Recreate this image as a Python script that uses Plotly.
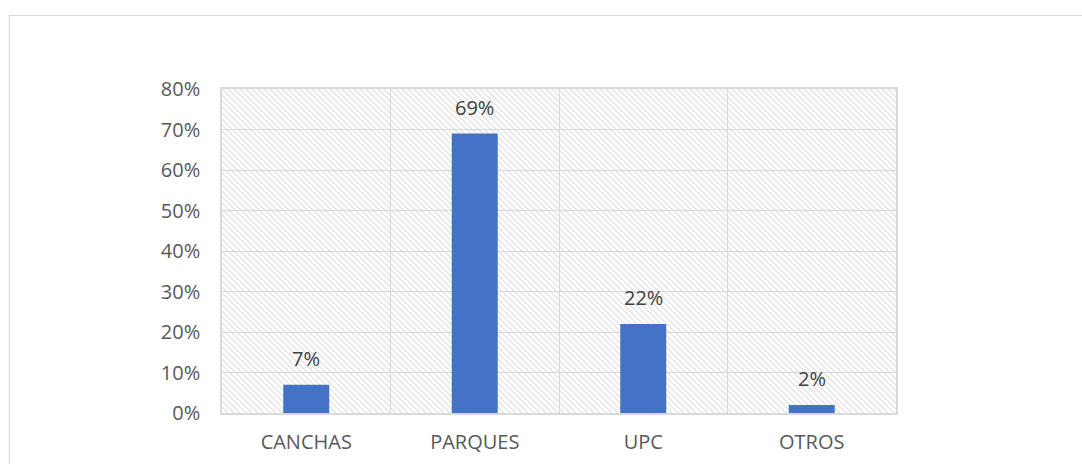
import base64
import plotly.graph_objects as go

# Survey results: share of answers per category
categories = ["CANCHAS", "PARQUES", "UPC", "OTROS"]
shares = [0.07, 0.69, 0.22, 0.02]
y_ticks = [0.0, 0.1, 0.2, 0.3, 0.4, 0.5, 0.6, 0.7, 0.8]
y_tick_labels = ["0%", "10%", "20%", "30%", "40%", "50%", "60%", "70%", "80%"]

FIG_W, FIG_H = 1082, 464
M_L, M_R, M_T, M_B = 222, 186, 89, 51
PLOT_W = FIG_W - M_L - M_R
PLOT_H = FIG_H - M_T - M_B

GRID = "#d9d9d9"
BAR = "#4472C4"
FONT = "Open Sans, Liberation Sans, sans-serif"
FS = 20

# Diagonal hatch pattern for the plotting area background
hatch_svg = f"""<svg xmlns='http://www.w3.org/2000/svg' width='{PLOT_W}' height='{PLOT_H}'>
<defs><pattern id='h' patternUnits='userSpaceOnUse' width='6' height='6'>
<path d='M-1,-1 L7,7 M-1,5 L1,7 M5,-1 L7,1' stroke='#dedede' stroke-width='1.2'/>
</pattern></defs>
<rect width='100%' height='100%' fill='white'/>
<rect width='100%' height='100%' fill='url(#h)'/>
</svg>"""
hatch_uri = "data:image/svg+xml;base64," + base64.b64encode(hatch_svg.encode()).decode()

fig = go.Figure(
    go.Bar(
        x=categories,
        y=shares,
        width=0.273,
        marker=dict(color=BAR, line=dict(width=0)),
        cliponaxis=False,
    )
)

# value labels above the bars
annotations = [
    dict(
        x=c, y=v, xref="x", yref="y",
        text=f"{round(v * 100)}%",
        showarrow=False, yanchor="bottom", yshift=11,
        font=dict(family=FONT, size=FS, color="#404040"),
    )
    for c, v in zip(categories, shares)
]

fig.update_layout(
    width=FIG_W,
    height=FIG_H,
    margin=dict(l=M_L, r=M_R, t=M_T, b=M_B, pad=0),
    paper_bgcolor="white",
    plot_bgcolor="rgba(0,0,0,0)",
    showlegend=False,
    font=dict(family=FONT, size=FS, color="#595959"),
    annotations=annotations,
    images=[
        dict(
            source=hatch_uri,
            xref="paper", yref="paper",
            x=0, y=1, sizex=1, sizey=1,
            xanchor="left", yanchor="top",
            sizing="stretch", layer="below",
        )
    ],
    shapes=[
        # outer chart frame
        dict(
            type="rect", xref="paper", yref="paper",
            x0=(9.5 - M_L) / PLOT_W, x1=(1100 - M_L) / PLOT_W,
            y0=(FIG_H - M_B - 480) / PLOT_H, y1=(FIG_H - M_B - 15.5) / PLOT_H,
            line=dict(color=GRID, width=1.2), fillcolor="rgba(0,0,0,0)",
            layer="below",
        )
    ],
)

fig.update_xaxes(
    type="category",
    tickson="boundaries",
    automargin=False,
    showgrid=True, gridcolor=GRID, gridwidth=1,
    showline=True, linecolor=GRID, linewidth=1.5, mirror=True,
    ticks="", ticklabelstandoff=10,
    tickfont=dict(family=FONT, size=FS, color="#595959"),
    zeroline=False,
)
fig.update_yaxes(
    range=[0, 0.8],
    automargin=False,
    tickvals=y_ticks, ticktext=y_tick_labels,
    showgrid=True, gridcolor=GRID, gridwidth=1,
    showline=True, linecolor=GRID, linewidth=1.5, mirror=True,
    ticks="outside", ticklen=16, tickcolor="rgba(0,0,0,0)",
    tickfont=dict(family=FONT, size=FS, color="#595959"),
    zeroline=False,
)

fig.write_html("out.html")
